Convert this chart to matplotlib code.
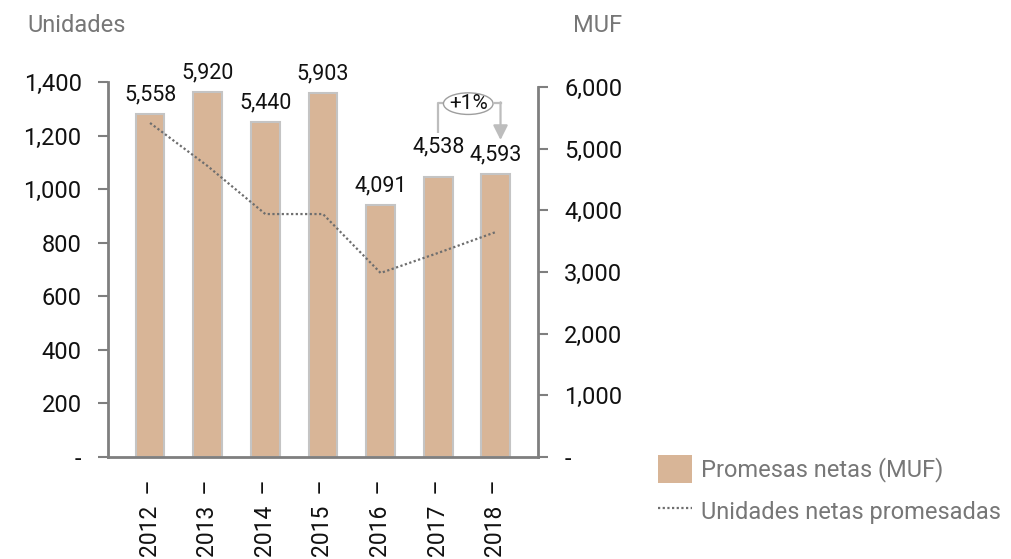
import matplotlib
matplotlib.use("Agg")
import matplotlib.pyplot as plt
from matplotlib.patches import Patch, Ellipse
from matplotlib.lines import Line2D
import numpy as np

# --- DATA ---
years = [2012, 2013, 2014, 2015, 2016, 2017, 2018]
promesas_muf = [5558, 5920, 5440, 5903, 4091, 4538, 4593]
unidades = [1247, 1086, 907, 907, 687, 762, 840]

left_ticks = [0, 200, 400, 600, 800, 1000, 1200, 1400]
right_ticks = [0, 1000, 2000, 3000, 4000, 5000, 6000]

# --- STYLE ---
plt.rcParams['font.family'] = ['Roboto', 'DejaVu Sans']

bar_color = '#D8B597'
bar_edge = '#C4C4C4'
spine_color = '#7F7F7F'
gray_text = '#777777'
line_color = '#6E6E6E'


def fmt(v):
    return '-' if v == 0 else f'{v:,}'


fig = plt.figure(figsize=(10.12, 5.59), dpi=100)
ax = fig.add_axes([0.1067, 0.1825, 0.4249, 0.6708])
ax2 = ax.twinx()

x = np.arange(len(years))

# bars on the MUF axis, drawn underneath the units line
bars = ax2.bar(x, promesas_muf, width=0.5, color=bar_color,
               edgecolor=bar_edge, linewidth=1.5, zorder=2)
ax.plot(x, unidades, color=line_color, linewidth=1.6,
        linestyle=(0, (1, 1.1)), zorder=3)
ax.set_zorder(ax2.get_zorder() + 1)
ax.patch.set_visible(False)

ax.set_xlim(-0.73, len(years) - 1 + 0.73)
ax.set_ylim(0, 1400)
ax2.set_ylim(0, 6000 * 375 / 370)

# spines
for s in ['top', 'right']:
    ax.spines[s].set_visible(False)
for s in ['top', 'left', 'bottom']:
    ax2.spines[s].set_visible(False)
ax.spines['left'].set_bounds(0, 1400)
ax2.spines['right'].set_bounds(0, 6000)
for sp in [ax.spines['left'], ax.spines['bottom'], ax2.spines['right']]:
    sp.set_color(spine_color)
    sp.set_linewidth(2)

ax.set_yticks(left_ticks)
ax.set_yticklabels([fmt(v) for v in left_ticks])
ax2.set_yticks(right_ticks)
ax2.set_yticklabels([fmt(v) for v in right_ticks])
ax.tick_params(axis='y', length=7, width=1.5, color=spine_color,
               pad=12, labelsize=17, labelcolor='#111111')
ax2.tick_params(axis='y', length=7, width=1.5, color=spine_color,
                pad=12, labelsize=17, labelcolor='#111111')

ax.set_xticks(x)
ax.set_xticklabels([f'{y}  \u2013' for y in years], rotation=90,
                   fontsize=16.5, color='#111111', ha='center', va='top')
ax.tick_params(axis='x', length=0, pad=16)

# value labels above bars
for i, v in enumerate(promesas_muf):
    off = 14 if i == 5 else 6
    ax2.annotate(f'{v:,}', (x[i], v), xytext=(0, off),
                 textcoords='offset points', ha='center', va='bottom',
                 fontsize=15.5, color='#111111')

# growth bracket 2017 -> 2018
pct = round((promesas_muf[6] / promesas_muf[5] - 1) * 100)
bx0, bx1 = x[5], x[6] + 0.08
y_top = 5740
bx_mid = (bx0 + bx1) / 2 - 0.02
ax2.plot([bx0, bx0, bx0 + 0.1], [5254, y_top, y_top], color='#BDBDBD',
         lw=1.6, zorder=4, solid_capstyle='butt')
ax2.plot([bx1 - 0.1, bx1], [y_top, y_top], color='#BDBDBD', lw=1.6, zorder=4)
ax2.annotate('', xy=(bx1, 5140), xytext=(bx1, y_top + 12),
             arrowprops=dict(arrowstyle='-|>', color='#BDBDBD', lw=1.6,
                             mutation_scale=22, shrinkA=0, shrinkB=0))
ax2.add_patch(Ellipse((bx_mid, 5730), 0.86, 350,
                      facecolor='white', edgecolor='#9E9E9E', lw=1.0, zorder=5))
ax2.text(bx_mid, 5730, f'+{pct}%', ha='center', va='center',
         fontsize=15, color='#111111', zorder=6)

# axis titles
fig.text(27 / 1012, 1 - 25 / 559, 'Unidades', ha='left', va='center',
         fontsize=17, color=gray_text)
fig.text(622 / 1012, 1 - 25 / 559, 'MUF', ha='right', va='center',
         fontsize=17, color=gray_text)

# legend
handles = [Patch(facecolor=bar_color, edgecolor='none'),
           Line2D([0], [0], color=line_color, linewidth=1.6,
                  linestyle=(0, (1, 1.1)))]
fig.legend(handles, ['Promesas netas (MUF)', 'Unidades netas promesadas'],
           loc='upper left', bbox_to_anchor=(658 / 1012, 1 - 455 / 559),
           frameon=False, fontsize=17, labelcolor=gray_text,
           handlelength=1.44, handleheight=1.44, handletextpad=0.38,
           labelspacing=0.6, borderpad=0, borderaxespad=0)

fig.savefig('out.png', dpi=100)
